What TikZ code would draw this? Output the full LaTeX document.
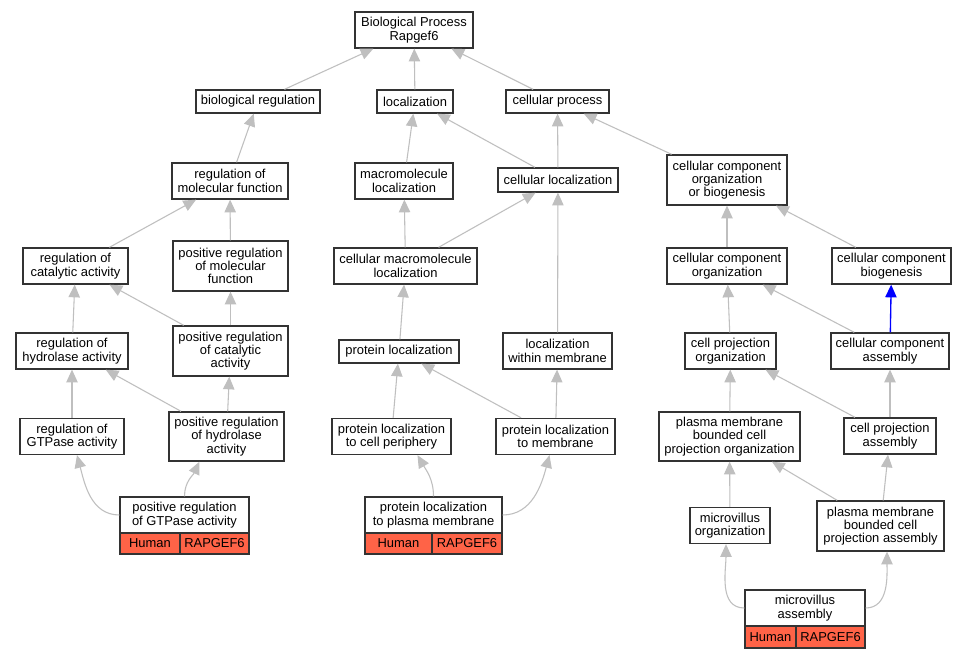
\documentclass[tikz,border=0pt]{standalone}
\usepackage{fontspec}
\setmainfont{Liberation Sans}
\usetikzlibrary{arrows.meta,calc}
\definecolor{tomato}{HTML}{FF6347}
\begin{document}
\begin{tikzpicture}[x=0.75pt,y=-0.75pt,
  box/.style={draw=black!80, line width=1pt, fill=white, inner sep=0pt, align=center, font=\fontsize{9.7}{10}\selectfont},
  sz/.style 2 args={minimum width=#1*0.75pt, minimum height=#2*0.75pt},
  gene/.style={box, fill=tomato},
  edge/.style={draw=gray!50, line width=0.8pt, -{Triangle[length=9.5pt,width=8.5pt]}},
  bedge/.style={draw=blue, line width=1pt, -{Triangle[length=9.5pt,width=8.5pt]}}]
\fill[white] (0,0) rectangle (965,659);
\useasboundingbox (0,0) rectangle (965,659);
% row 0
\node[box, sz={118}{36}] (root) at (414,30) {Biological Process\\Rapgef6};
% row 1
\node[box, sz={124}{23}] (breg) at (258,101.5) {biological regulation};
\node[box, sz={76}{23}] (loc) at (415,101.5) {localization};
\node[box, sz={103}{23}] (cproc) at (557.5,101.5) {cellular process};
% row 2
\node[box, sz={116}{36}] (rmf) at (230,181) {regulation of\\molecular function};
\node[box, sz={98}{36}] (mloc) at (404,181) {macromolecule\\localization};
\node[box, sz={120}{24}] (cloc) at (558,180) {cellular localization};
\node[box, sz={120}{50}] (ccob) at (727,180) {cellular component\\organization\\or biogenesis};
% row 3
\node[box, sz={105}{36}] (rca) at (75.5,266) {regulation of\\catalytic activity};
\node[box, sz={115}{50}] (prmf) at (230.5,266) {positive regulation\\of molecular\\function};
\node[box, sz={143}{36}] (cml) at (405.5,266) {cellular macromolecule\\localization};
\node[box, sz={120}{36}] (cco) at (727,266) {cellular component\\organization};
\node[box, sz={119}{36}] (ccb) at (891.5,266) {cellular component\\biogenesis};
% row 4
\node[box, sz={112}{36}] (rha) at (72,351) {regulation of\\hydrolase activity};
\node[box, sz={115}{50}] (prca) at (230.5,351) {positive regulation\\of catalytic\\activity};
\node[box, sz={120}{23}] (ploc) at (399,351.5) {protein localization};
\node[box, sz={109}{36}] (lwm) at (557.5,351) {localization\\within membrane};
\node[box, sz={91}{36}] (cpo) at (730.5,351) {cell projection\\organization};
\node[box, sz={118}{36}] (cca) at (890,351) {cellular component\\assembly};
% row 5
\node[box, sz={104}{36}] (rgt) at (72,436.5) {regulation of\\GTPase activity};
\node[box, sz={115}{49}] (prha) at (226.5,436.5) {positive regulation\\of hydrolase\\activity};
\node[box, sz={119}{36}] (plcp) at (391.5,436.5) {protein localization\\to cell periphery};
\node[box, sz={119}{36}] (plm) at (555.5,436.5) {protein localization\\to membrane};
\node[box, sz={141}{49}] (pmbo) at (729.5,436.5) {plasma membrane\\bounded cell\\projection organization};
\node[box, sz={92}{36}] (cpa) at (890,436) {cell projection\\assembly};
% row 6
\node[box, sz={129}{36}] (prgt) at (184.5,515) {positive regulation\\of GTPase activity};
\node[gene, sz={60}{21}] (prgtH) at (150,543.5) {Human};
\node[gene, sz={69}{21}] (prgtR) at (214.5,543.5) {RAPGEF6};
\node[box, sz={137}{36}] (plpm) at (433.5,515) {protein localization\\to plasma membrane};
\node[gene, sz={67}{21}] (plpmH) at (398.5,543.5) {Human};
\node[gene, sz={70}{21}] (plpmR) at (467,543.5) {RAPGEF6};
\node[box, sz={80}{36}] (mvo) at (730,525.5) {microvillus\\organization};
\node[box, sz={127}{50}] (pmba) at (880.5,526) {plasma membrane\\bounded cell\\projection assembly};
% row 7
\node[box, sz={120}{36}] (mva) at (805,608) {microvillus\\assembly};
\node[gene, sz={51}{22}] (mvaH) at (770.5,637) {Human};
\node[gene, sz={69}{22}] (mvaR) at (830.5,637) {RAPGEF6};
% edges
\draw[edge] (breg) -- (root);
\draw[edge] (loc) -- (root);
\draw[edge] (cproc) -- (root);
\draw[edge] (rmf) -- (breg);
\draw[edge] (mloc) -- (loc);
\draw[edge] (cloc) -- (loc);
\draw[edge] (cloc) -- (cproc);
\draw[edge] (ccob) -- (cproc);
\draw[edge] (rca) -- (rmf);
\draw[edge] (prmf) -- (rmf);
\draw[edge] (cml) -- (mloc);
\draw[edge] (cml) -- (cloc);
\draw[edge] (lwm) -- (cloc);
\draw[edge] (cco) -- (ccob);
\draw[edge] (ccb) -- (ccob);
\draw[edge] (rha) -- (rca);
\draw[edge] (prca) -- (rca);
\draw[edge] (prca) -- (prmf);
\draw[edge] (ploc) -- (cml);
\draw[edge] (cpo) -- (cco);
\draw[edge] (cca) -- (cco);
\draw[bedge] (cca) -- (ccb);
\draw[edge] (rgt) -- (rha);
\draw[edge] (prha) -- (rha);
\draw[edge] (prha) -- (prca);
\draw[edge] (plcp) -- (ploc);
\draw[edge] (plm) -- (ploc);
\draw[edge] (plm) -- (lwm);
\draw[edge] (pmbo) -- (cpo);
\draw[edge] (cpa) -- (cpo);
\draw[edge] (cpa) -- (cca);
\draw[edge] (mvo) -- (pmbo);
\draw[edge] (pmba) -- (pmbo);
\draw[edge] (pmba) -- (cpa);
\draw[edge] (prgt.west) to[out=180,in=-75] ($(rgt.south)+(5,0)$);
\draw[edge] (prgt.north) to[out=90,in=-115] ($(prha.south)+(-27,0)$);
\draw[edge] (plpm.north) to[out=90,in=-60] ($(plcp.south)+(26,0)$);
\draw[edge] (plpm.east) to[out=0,in=-105] ($(plm.south)+(-6,0)$);
\draw[edge] (mva.west) to[out=180,in=-90] ($(mvo.south)+(-4,0)$);
\draw[edge] (mva.east) to[out=0,in=-90] ($(pmba.south)+(6.5,0)$);
\end{tikzpicture}
\end{document}
